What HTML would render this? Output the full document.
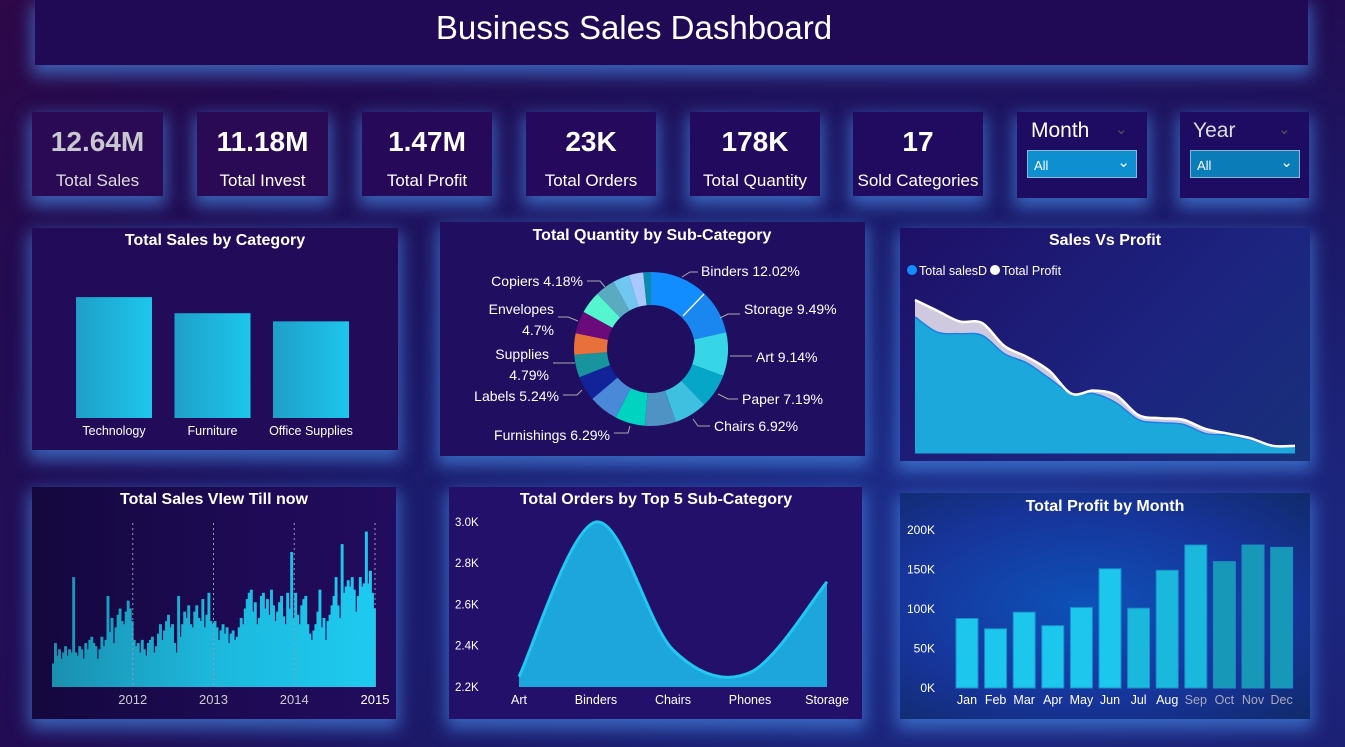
<!DOCTYPE html>
<html><head><meta charset="utf-8">
<style>
*{margin:0;padding:0;box-sizing:border-box}
body{width:1345px;height:747px;overflow:hidden;font-family:"Liberation Sans",sans-serif;color:#fff;
background:radial-gradient(ellipse at 75% 75%,#1d3392 0%,#1c1a6a 45%,#220c52 75%,#2e0848 100%);position:relative}
.p{position:absolute;background:#220d5c;box-shadow:0 7px 16px 3px rgba(70,140,230,.65)}
.kv{position:absolute;left:0;right:0;top:14px;text-align:center;font-size:28px;font-weight:bold}
.kl{position:absolute;left:0;right:0;top:59px;text-align:center;font-size:17px}
svg{position:absolute;left:0;top:0}
</style></head><body>
<div class="p" style="left:35px;top:0;width:1273px;height:65px;background:#200a55"></div>
<div class="p" style="left:32px;top:112px;width:131px;height:84px;background:#2a0a55"><div class="kv" style="color:#c8c8d0">12.64M</div><div class="kl" style="color:#ddd">Total Sales</div></div>
<div class="p" style="left:197px;top:112px;width:131px;height:84px;background:#2a0a55"><div class="kv">11.18M</div><div class="kl">Total Invest</div></div>
<div class="p" style="left:362px;top:112px;width:130px;height:84px;background:#27095a"><div class="kv">1.47M</div><div class="kl">Total Profit</div></div>
<div class="p" style="left:526px;top:112px;width:130px;height:84px;background:#24095c"><div class="kv">23K</div><div class="kl">Total Orders</div></div>
<div class="p" style="left:690px;top:112px;width:130px;height:84px;background:#220a5e"><div class="kv">178K</div><div class="kl">Total Quantity</div></div>
<div class="p" style="left:853px;top:112px;width:130px;height:84px;background:#200b60"><div class="kv">17</div><div class="kl">Sold Categories</div></div>
<div class="p" style="left:1017px;top:112px;width:130px;height:86px;background:#1e0c62">
 <div style="position:absolute;left:14px;top:7px;font-size:21px">Month</div>
 <div style="position:absolute;left:98px;top:8px;color:#555;font-size:15px">&#8964;</div>
 <div style="position:absolute;left:10px;top:38px;width:110px;height:28px;background:#0e90d0;border:1px solid #8ab8d8;font-size:13px;padding:7px 6px">All<span style="position:absolute;right:6px;top:2px;font-size:15px">&#8964;</span></div>
</div>
<div class="p" style="left:1180px;top:112px;width:129px;height:86px;background:#1e0c62">
 <div style="position:absolute;left:13px;top:7px;font-size:21px;color:#ddd">Year</div>
 <div style="position:absolute;left:98px;top:8px;color:#555;font-size:15px">&#8964;</div>
 <div style="position:absolute;left:10px;top:38px;width:110px;height:28px;background:#0a7cb8;border:1px solid #8ab8d8;font-size:13px;padding:7px 6px">All<span style="position:absolute;right:6px;top:2px;font-size:15px">&#8964;</span></div>
</div>
<div class="p" style="left:32px;top:228px;width:366px;height:222px;background:#220c5a"></div>
<div class="p" style="left:440px;top:222px;width:425px;height:234px;background:#200e60"></div>
<div class="p" style="left:900px;top:228px;width:410px;height:233px;background:linear-gradient(135deg,#1e1068,#1c2480 60%,#18307a)"></div>
<div class="p" style="left:32px;top:487px;width:364px;height:232px;background:linear-gradient(90deg,#14083e,#1e0a55 60%,#220c5e)"></div>
<div class="p" style="left:449px;top:487px;width:413px;height:232px;background:#22106a"></div>
<div class="p" style="left:900px;top:493px;width:410px;height:226px;background:radial-gradient(ellipse at 45% 50%,#0d52b8,#17349a 60%,#102a6a)"></div>

<svg id="s" width="1345" height="747">
<defs>
<linearGradient id="gBar" x1="0" y1="0" x2="1" y2="0"><stop offset="0" stop-color="#1e9fc8"/><stop offset="1" stop-color="#1ec6ec"/></linearGradient>
<linearGradient id="gSpike" gradientUnits="userSpaceOnUse" x1="52" y1="0" x2="375" y2="0"><stop offset="0" stop-color="#1a90b0"/><stop offset=".5" stop-color="#1cb8dc"/><stop offset="1" stop-color="#1ecaf0"/></linearGradient>
</defs>
<text x="634" y="39" text-anchor="middle" font-size="33" fill="#fff">Business Sales Dashboard</text>
<text x="215" y="245" text-anchor="middle" font-size="16" font-weight="bold" fill="#fff">Total Sales by Category</text>
<text x="652" y="240" text-anchor="middle" font-size="16" font-weight="bold" fill="#fff">Total Quantity by Sub-Category</text>
<text x="1105" y="245" text-anchor="middle" font-size="16" font-weight="bold" fill="#fff">Sales Vs Profit</text>
<text x="214" y="504" text-anchor="middle" font-size="16" font-weight="bold" fill="#fff">Total Sales VIew Till now</text>
<text x="656" y="504" text-anchor="middle" font-size="16" font-weight="bold" fill="#fff">Total Orders by Top 5 Sub-Category</text>
<text x="1105" y="511" text-anchor="middle" font-size="16" font-weight="bold" fill="#fff">Total Profit by Month</text>
<circle cx="912" cy="270" r="5" fill="#118dff"/>
<text x="919" y="275" font-size="12.5" fill="#fff">Total salesD</text>
<circle cx="995" cy="270" r="5" fill="#fff"/>
<text x="1002" y="275" font-size="12.5" fill="#fff">Total Profit</text>
</svg>
<script>
// ---- data ----
const catNames=["Technology","Furniture","Office Supplies"];
const catSales=[4.74,4.11,3.79];
const subNames=["Binders","Storage","Art","Paper","Chairs","Phones","Furnishings","Accessories","Labels","Supplies","Fasteners","Envelopes","Appliances","Copiers","Bookcases","Machines","Tables"];
const subPct=[12.02,9.49,9.14,7.19,6.92,6.5,6.29,6.2,5.24,4.79,4.5,4.7,4.7,4.18,3.5,3.0,1.6];
const subColors=["#118dff","#1a86f0","#36d5e8","#05a6c8","#3ec0e0","#4f93c4","#00d4c0","#4a88d8","#12239a","#17949e","#e8703a","#6b0a7a","#55f5d0","#5aabc0","#70c8f0","#a8c8ff","#0a8ab0"];
const svpSales=[89,79,78,77,65,59,49,39,39,33,22,20,19,13,12,9,5,5];
const svpProfit=[100,93,86,85,70,63,54,39,41,38,25,23,22,16,13,10,5,5];
const spikeYears=["2012","2013","2014","2015"];
const spikeVals=[15,28,20,24,18,22,26,20,24,22,70,22,20,26,24,18,28,24,30,32,28,26,18,24,32,26,30,58,35,44,28,38,46,50,42,40,48,55,50,42,
30,26,28,22,30,24,20,28,30,32,22,26,34,40,30,36,42,46,38,40,28,22,58,32,40,48,44,52,40,38,48,52,44,42,56,38,46,60,42,40,
42,38,30,36,40,34,38,28,34,36,30,32,38,44,40,50,56,60,62,48,54,40,44,58,60,50,56,46,62,52,42,48,54,58,45,40,60,50,86,44,
60,46,40,52,56,58,40,34,30,36,40,48,62,38,44,30,42,46,52,58,70,52,44,91,60,64,68,64,70,62,48,58,70,64,66,99,66,74,60,50];
const orderCats=["Art","Binders","Chairs","Phones","Storage"];
const orderVals=[2250,3000,2380,2270,2710];
const orderTicks=[2200,2400,2600,2800,3000];
const months=["Jan","Feb","Mar","Apr","May","Jun","Jul","Aug","Sep","Oct","Nov","Dec"];
const monthProfit=[88,75,96,79,102,151,101,149,181,160,181,178];
const profitTicks=[0,50,100,150,200];

const S=document.getElementById('s');const NS='http://www.w3.org/2000/svg';
function mk(t,a,p){const e=document.createElementNS(NS,t);for(const k in a)e.setAttribute(k,a[k]);(p||S).appendChild(e);return e;}
function txt(x,y,s,size,fill,anchor){const e=mk('text',{x:x,y:y,'font-size':size,fill:fill||'#fff','text-anchor':anchor||'middle'});e.textContent=s;return e;}
function smooth(pts){let d='M'+pts[0][0]+','+pts[0][1];for(let i=0;i<pts.length-1;i++){const p0=pts[i-1]||pts[i],p1=pts[i],p2=pts[i+1],p3=pts[i+2]||p2;
d+=' C'+(p1[0]+(p2[0]-p0[0])/6)+','+(p1[1]+(p2[1]-p0[1])/6)+' '+(p2[0]-(p3[0]-p1[0])/6)+','+(p2[1]-(p3[1]-p1[1])/6)+' '+p2[0]+','+p2[1];}return d;}

// category bars
{const y=v=>418-v*25.5, x=i=>76+i*98.5;
catNames.forEach((n,i)=>{const r=mk('rect',{x:x(i),y:y(catSales[i]),width:76,height:418-y(catSales[i]),fill:'url(#gBar)'});


const t=txt(x(i)+38,435,n,12.5);
});}

// donut
{const cx=651,cy=349,R=77,r=44;let a=0;const tot=subPct.reduce((s,v)=>s+v,0);
subPct.forEach((v,i)=>{const a0=a/tot*2*Math.PI,a1=(a+v)/tot*2*Math.PI;a+=v;
const p=(ang,rr)=>[cx+rr*Math.sin(ang),cy-rr*Math.cos(ang)];const [x0,y0]=p(a0,R),[x1,y1]=p(a1,R),[x2,y2]=p(a1,r),[x3,y3]=p(a0,r);const lg=(a1-a0)>Math.PI?1:0;
const s=mk('path',{d:`M${x0},${y0}A${R},${R} 0 ${lg} 1 ${x1},${y1}L${x2},${y2}A${r},${r} 0 ${lg} 0 ${x3},${y3}Z`,fill:subColors[i]});

});
mk('line',{x1:683,y1:316,x2:704,y2:294,stroke:'#fff','stroke-width':1.3});
const labs=[["Binders 12.02%",701,276,'start',[[682,277],[690,272],[698,272]]],["Storage 9.49%",744,314,'start',[[720,318],[728,314],[740,314]]],["Art 9.14%",756,362,'start',[[730,356],[752,356]]],["Paper 7.19%",742,404,'start',[[718,394],[728,399],[738,399]]],["Chairs 6.92%",714,431,'start',[[693,419],[698,426],[710,426]]],["Furnishings 6.29%",610,440,'end',[[630,426],[628,433],[614,433]]],["Labels 5.24%",559,401,'end',[[582,390],[577,395],[563,395]]],["Supplies",549,359,'end',[[575,363],[553,363]]],["4.79%",549,380,'end',null],["Envelopes",554,314,'end',[[578,321],[568,317],[558,317]]],["4.7%",554,335,'end',null],["Copiers 4.18%",583,286,'end',[[605,287],[600,281],[587,281]]]];
labs.forEach(l=>{const t=txt(l[1],l[2],l[0],14,'#fff',l[3]);
if(l[4])mk('polyline',{points:l[4].map(p=>p.join(',')).join(' '),fill:'none',stroke:'#aaa','stroke-width':1});});}

// sales vs profit
{const n=svpSales.length,x=i=>915+i*(380/(n-1)),y=v=>453.5-v*1.535;
const pp=svpProfit.map((v,i)=>[x(i),y(v)]),sp=svpSales.map((v,i)=>[x(i),y(v)]);
const a1=mk('path',{d:smooth(pp)+` L${x(n-1)},453.5 L915,453.5Z`,fill:'#cfc9e0'});

const a2=mk('path',{d:smooth(sp)+` L${x(n-1)},453.5 L915,453.5Z`,fill:'#1da8dc'});

mk('path',{d:smooth(sp),fill:'none',stroke:'#1a7fe8','stroke-width':1.5});
const l=mk('path',{d:smooth(pp),fill:'none',stroke:'#fff','stroke-width':2.5});
}

// spike chart
{const n=spikeVals.length,x0=52,x1=375,bw=(x1-x0)/n,y=v=>687-v*1.57;
spikeVals.forEach((v,i)=>{const b=mk('rect',{x:x0+i*bw,y:y(v),width:bw+0.9,height:687-y(v),fill:'url(#gSpike)'});

});
spikeYears.forEach((yr,i)=>{const xx=x0+(i+1)*(x1-x0)/4;mk('line',{x1:xx,y1:523,x2:xx,y2:687,stroke:'#9a9ab8','stroke-width':1,'stroke-dasharray':'2,3'});
const t=txt(xx,704,yr,13,i==3?'#fff':'#ccc');
});}

// orders
{const x=i=>519+i*77,y=v=>687-(v-2200)*0.2063;
orderTicks.forEach(t=>{const e=txt(455,y(t)+4,(t/1000).toFixed(1)+'K',11.5,'#fff','start');
});
orderCats.forEach((c,i)=>{const e=txt(x(i),704,c,12.5);
});
const pts=orderVals.map((v,i)=>[x(i),y(v)]);
const a=mk('path',{d:smooth(pts)+` L${x(4)},687 L${x(0)},687Z`,fill:'#1ca6dc'});

mk('path',{d:smooth(pts),fill:'none',stroke:'#22c8f0','stroke-width':3});}

// profit by month
{const x=i=>955+i*28.6,y=v=>688-v*0.79;
profitTicks.forEach(t=>{const e=txt(935,y(t)+4,t+'K',12,'#fff','end');
});
months.forEach((m,i)=>{const b=mk('rect',{x:x(i)+1,y:y(monthProfit[i]),width:22,height:688-y(monthProfit[i]),fill:i<6?'#1cc6ec':(i<9?'#1bb8de':'#1898b8'),stroke:'#1a8cc8','stroke-width':1});


const t=txt(x(i)+12,704,m,12.5,i<8?'#fff':'#aab');
});}
</script>
</body></html>
